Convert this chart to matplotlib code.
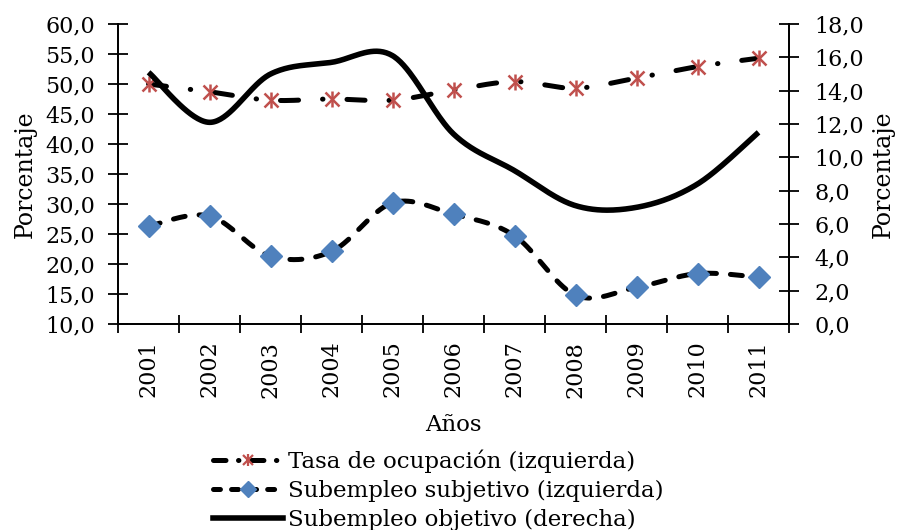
import matplotlib

matplotlib.use("Agg")
import matplotlib.pyplot as plt
import numpy as np
from matplotlib.lines import Line2D
from matplotlib.legend_handler import HandlerTuple
from matplotlib.ticker import FuncFormatter, MultipleLocator

plt.rcParams["font.family"] = ["DejaVu Serif"]
plt.rcParams["lines.scale_dashes"] = False

years = ["2001", "2002", "2003", "2004", "2005", "2006",
         "2007", "2008", "2009", "2010", "2011"]
tasa_ocupacion = [50.0, 48.7, 47.3, 47.5, 47.3, 49.0, 50.4, 49.3, 51.0, 52.9, 54.3]
subempleo_subjetivo = [26.3, 28.0, 21.3, 22.1, 30.2, 28.3, 24.7, 14.8, 16.1, 18.4, 17.8]
subempleo_objetivo = [15.1, 12.1, 15.0, 15.7, 16.1, 11.4, 9.2, 7.1, 7.0, 8.4, 11.5]

RED = "#C0504D"
BLUE = "#4F81BD"
FS = 16
LW = 3.6


def smooth(xs, ys, n=40):
    # Excel-style smoothed line: Catmull-Rom as cubic Bezier segments
    p = np.column_stack([xs, ys]).astype(float)
    pts = [p[0]]
    for i in range(len(p) - 1):
        p0 = p[i - 1] if i > 0 else p[i]
        p3 = p[i + 2] if i + 2 < len(p) else p[i + 1]
        c1 = p[i] + (p[i + 1] - p0) / 6
        c2 = p[i + 1] - (p3 - p[i]) / 6
        t = np.linspace(0, 1, n)[1:, None]
        seg = ((1 - t) ** 3 * p[i] + 3 * (1 - t) ** 2 * t * c1
               + 3 * (1 - t) * t ** 2 * c2 + t ** 3 * p[i + 1])
        pts.extend(seg)
    pts = np.array(pts)
    return pts[:, 0], pts[:, 1]


x = np.arange(len(years))
comma = FuncFormatter(lambda v, _: f"{v:.1f}".replace(".", ","))

fig = plt.figure(figsize=(8.99, 5.30), dpi=100)
ax = fig.add_axes([0.1313, 0.3887, 0.7464, 0.566])
ax2 = ax.twinx()

dashdot = (0, (13, 17.3, 0.3, 17.3))
dashed = (0, (8.6, 10.1))

sx, sy = smooth(x, tasa_ocupacion)
ax.plot(sx, sy, color="black", lw=LW, linestyle=dashdot,
        dash_capstyle="round", zorder=2)
ax.plot(x, tasa_ocupacion, linestyle="none", marker="x", ms=10, mew=1.8,
        color=RED, zorder=4)
ax.plot(x, tasa_ocupacion, linestyle="none", marker="|", ms=12, mew=1.8,
        color=RED, zorder=4)

sx, sy = smooth(x, subempleo_subjetivo)
ax.plot(sx, sy, color="black", lw=LW, linestyle=dashed,
        dash_capstyle="round", zorder=2)
ax.plot(x, subempleo_subjetivo, linestyle="none", marker="D", ms=11.5,
        color=BLUE, mec=BLUE, zorder=4)

sx, sy = smooth(x, subempleo_objetivo)
ax2.plot(sx, sy, color="black", lw=4.0, solid_capstyle="butt")

ax.set_xlim(-0.5, len(years) - 0.5)
ax.set_ylim(10, 60)
ax2.set_ylim(0, 18)
ax.yaxis.set_major_locator(MultipleLocator(5))
ax2.yaxis.set_major_locator(MultipleLocator(2))
ax.yaxis.set_major_formatter(comma)
ax2.yaxis.set_major_formatter(comma)

ax.set_xticks(np.arange(-0.5, len(years), 1.0))
ax.set_xticklabels([])
ax.set_xticks(x, minor=True)
ax.set_xticklabels(years, minor=True, rotation=90, fontsize=FS)
ax.tick_params(axis="x", which="major", direction="inout", length=13, width=1.3)
ax.tick_params(axis="x", which="minor", length=0, pad=12)
ax.tick_params(axis="y", direction="inout", length=14, width=1.3,
               labelsize=FS, pad=9.5)
ax2.tick_params(axis="y", direction="inout", length=14, width=1.3,
                labelsize=FS, pad=11)

for a in (ax, ax2):
    a.spines["top"].set_visible(False)
    for s in ("left", "right", "bottom"):
        a.spines[s].set_linewidth(1.3)

ax.set_ylabel("Porcentaje", fontsize=17, labelpad=6)
ax2.set_ylabel("Porcentaje", fontsize=17, labelpad=6)
ax.set_xlabel("Años", fontsize=16.5, labelpad=12)

h1 = (Line2D([], [], color="black", lw=LW, linestyle=(0, (9, 9, 0.3, 9)),
             dash_capstyle="round"),
      Line2D([], [], linestyle="none", marker="x", ms=7, mew=1.6, color=RED),
      Line2D([], [], linestyle="none", marker="|", ms=8, mew=1.6, color=RED))
h2 = (Line2D([], [], color="black", lw=LW, linestyle=(0, (5, 8)),
             dash_capstyle="round"),
      Line2D([], [], linestyle="none", marker="D", ms=8, color=BLUE))
h3 = Line2D([], [], color="black", lw=4.0)
fig.legend([h1, h2, h3],
           ["Tasa de ocupación (izquierda)", "Subempleo subjetivo (izquierda)",
            "Subempleo objetivo (derecha)"],
           handler_map={tuple: HandlerTuple(ndivide=1)},
           loc="upper left", bbox_to_anchor=(0.237, 0.151), frameon=False,
           fontsize=16.5, borderpad=0, borderaxespad=0, handlelength=3.05,
           handletextpad=0.2, labelspacing=0.3)

fig.savefig("out.png", dpi=100)
